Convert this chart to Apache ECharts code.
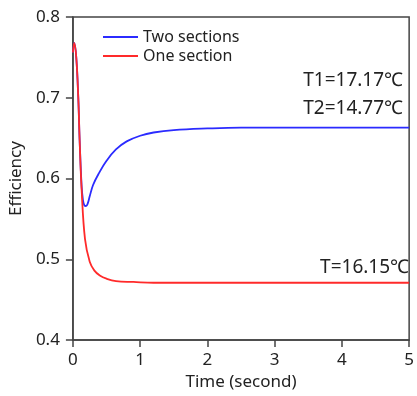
<!DOCTYPE html>
<html><head><meta charset="utf-8">
<script src="https://cdn.jsdelivr.net/npm/echarts@6/dist/echarts.min.js"></script>
<style>html,body{margin:0;padding:0;background:#fff}#c{width:417px;height:396px}</style>
</head><body><div id="c"></div>
<script>
const twoT = [0, 0.02, 0.05, 0.08, 0.1, 0.13, 0.15, 0.17, 0.195, 0.22, 0.25, 0.3, 0.39, 0.5, 0.64, 0.8, 1.0, 1.2, 1.5, 2.0, 2.5, 3.0, 4.0, 5.0];
const twoV = [0.756, 0.768, 0.75, 0.70, 0.648, 0.59, 0.573, 0.567, 0.566, 0.569, 0.578, 0.592, 0.607, 0.622, 0.636, 0.646, 0.653, 0.657, 0.66, 0.662, 0.663, 0.663, 0.663, 0.663];
const oneT = [0, 0.02, 0.05, 0.08, 0.1, 0.13, 0.18, 0.25, 0.32, 0.4, 0.5, 0.64, 0.9, 1.2, 1.5, 2.0, 3.0, 4.0, 5.0];
const oneV = [0.756, 0.768, 0.75, 0.70, 0.648, 0.586, 0.525, 0.497, 0.486, 0.480, 0.476, 0.473, 0.472, 0.471, 0.471, 0.471, 0.471, 0.471, 0.471];
const seriesNames = ['Two sections', 'One section'];
const annotations = ['T1=17.17℃', 'T2=14.77℃', 'T=16.15℃'];

const font = '"Noto Sans", "DejaVu Sans", sans-serif';
const chart = echarts.init(document.getElementById('c'));
chart.setOption({
  animation: false,
  grid: { left: 72, right: 3, top: 17, bottom: 55, show: true, borderColor: '#444', borderWidth: 1.5 },
  legend: {
    left: 98, top: 24, orient: 'vertical', itemWidth: 35, itemHeight: 2, itemGap: 3, icon: 'rect',
    textStyle: { fontFamily: font, fontSize: 16, color: '#222' },
    data: seriesNames
  },
  xAxis: {
    type: 'value', min: 0, max: 5, interval: 1,
    name: 'Time (second)', nameLocation: 'middle', nameGap: 30,
    nameTextStyle: { fontFamily: font, fontSize: 17, color: '#222' },
    axisLine: { lineStyle: { color: '#444', width: 1.5 } },
    axisTick: { show: true, inside: false, length: 7, lineStyle: { color: '#444', width: 1.5 } },
    axisLabel: { fontFamily: font, fontSize: 17, color: '#222', margin: 12 },
    splitLine: { show: false }
  },
  yAxis: {
    type: 'value', min: 0.4, max: 0.8, interval: 0.1,
    name: 'Efficiency', nameLocation: 'middle', nameGap: 34,
    nameTextStyle: { fontFamily: font, fontSize: 17, color: '#222' },
    axisLine: { show: true, lineStyle: { color: '#444', width: 1.5 } },
    axisTick: { show: true, inside: false, length: 7, lineStyle: { color: '#444', width: 1.5 } },
    axisLabel: { fontFamily: font, fontSize: 17, color: '#222', margin: 13, formatter: v => v.toFixed(1) },
    splitLine: { show: false }
  },
  series: [
    { name: seriesNames[0], type: 'line', smooth: 0.4, symbol: 'none', color: '#2b2bff',
      lineStyle: { width: 1.8 }, data: twoT.map((t, i) => [t, twoV[i]]) },
    { name: seriesNames[1], type: 'line', smooth: 0.4, symbol: 'none', color: '#ff2a2a',
      lineStyle: { width: 1.8 }, data: oneT.map((t, i) => [t, oneV[i]]) }
  ],
  graphic: [
    { type: 'text', right: 14, top: 71, style: { text: annotations[0], fontFamily: font, fontSize: 19, fill: '#222' } },
    { type: 'text', right: 14, top: 99, style: { text: annotations[1], fontFamily: font, fontSize: 19, fill: '#222' } },
    { type: 'text', right: 8, top: 258, style: { text: annotations[2], fontFamily: font, fontSize: 19, fill: '#222' } }
  ]
});
</script></body></html>
